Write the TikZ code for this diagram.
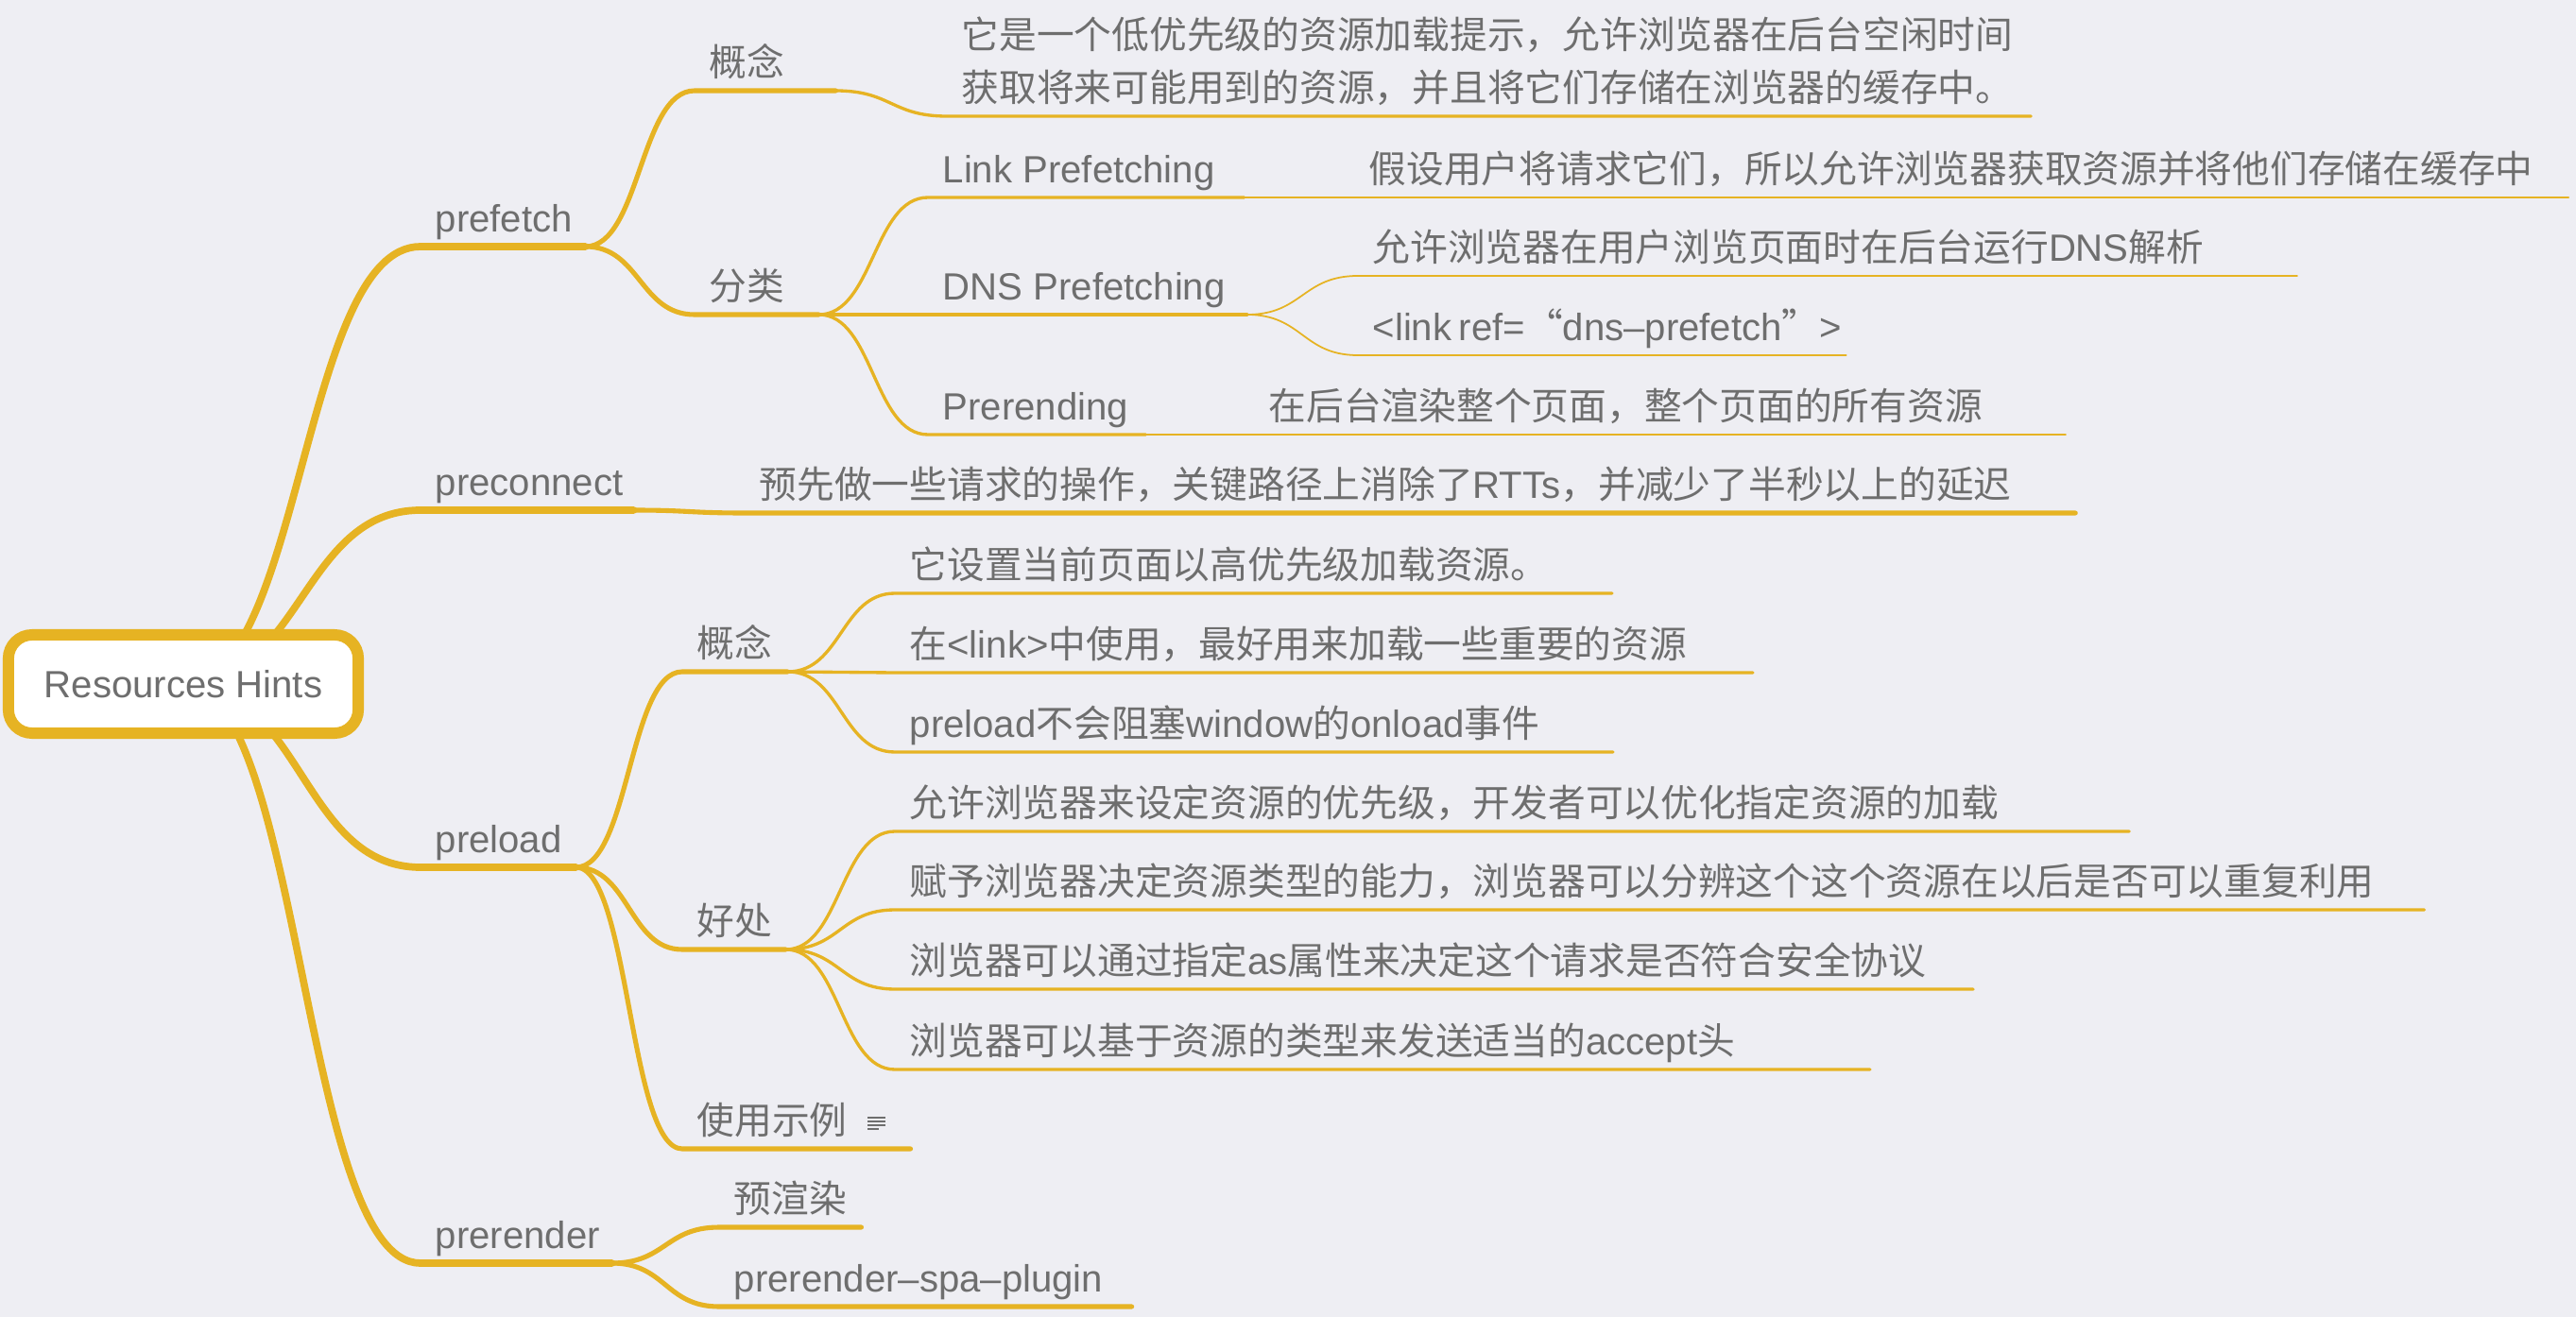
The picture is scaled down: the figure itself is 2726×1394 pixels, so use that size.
\documentclass[tikz,border=0pt]{standalone}
\usepackage{fontspec}
\setmainfont{Liberation Sans}[Scale=1.01]
\newfontfamily\zhfont{Noto Sans CJK SC}
\usetikzlibrary{calc,backgrounds}
\definecolor{ln}{RGB}{230,179,35}
\definecolor{txt}{RGB}{110,110,110}
\definecolor{bg}{RGB}{238,238,243}
% chinese characters switch to the CJK family
\newcount\cc
\newcommand\setzh[2]{\cc=#1 \loop\XeTeXcharclass\cc=1 \advance\cc by 1 \ifnum\cc<#2 \repeat}
\setzh{"3000}{"3040}
\setzh{"4E00}{"A000}
\setzh{"FF00}{"FFF0}
\setzh{"201C}{"201E}
\XeTeXinterchartoks 0 1 = {\zhfont}
\XeTeXinterchartoks 4095 1 = {\zhfont}
\XeTeXinterchartoks 1 0 = {\rmfamily}
\XeTeXinterchartokenstate=1
\tikzset{tp/.style={anchor=south west,inner xsep=0.15cm,inner ysep=0.15cm,text depth=0pt,text=txt}}
\tikzset{ul/.style={execute at begin node={\hbox to \dimexpr#1-0.3cm\relax\bgroup},execute at end node={\hfil\egroup}}}
\tikzset{rt/.style={draw=ln,fill=white,line width=3.4pt,rounded corners=0.25cm,minimum width=3.7cm,minimum height=1.04cm,text=txt}}
\tikzset{b1/.style={draw=ln,line width=2.2pt,line cap=round}}
\tikzset{b2/.style={draw=ln,line width=1.45pt,line cap=round}}
\tikzset{b3/.style={draw=ln,line width=0.95pt,line cap=round}}
\tikzset{b4/.style={draw=ln,line width=0.5pt,line cap=round}}
\tikzset{sc/.style={to path={.. controls ($(\tikztostart)!.5!(\tikztotarget|-\tikztostart)$) and ($(\tikztotarget)!.5!(\tikztostart|-\tikztotarget)$) .. (\tikztotarget)}}}

\begin{document}
\begin{tikzpicture}[x=0.01cm,y=-0.01cm,font=\fontsize{11.3pt}{15.93pt}\selectfont]
                \useasboundingbox (0,0) rectangle (2726,1394);
                \node[rt] (root) at (194,724) {Resources Hints};
                % first level
                \node[tp,ul=1.73cm] (prefetch) at (445,261) {prefetch};
                \node[tp,ul=2.24cm] (preconnect) at (445,540) {preconnect};
                \node[tp,ul=1.63cm] (preload) at (445,918) {preload};
                \node[tp,ul=2.01cm] (prerender) at (445,1337) {prerender};
                % prefetch
                \node[tp,ul=1.48cm] (pfgn) at (735,96) {概念};
                \node[tp,ul=1.30cm] (pffl) at (735,333) {分类};
                \node[tp,text width=11.15cm,align=left,text depth=0.56cm] (pfgnd) at (1002,123) {它是一个低优先级的资源加载提示，允许浏览器在后台空闲时间\\获取将来可能用到的资源，并且将它们存储在浏览器的缓存中。};
                \node[tp,ul=3.33cm] (link) at (982,209) {Link Prefetching};
                \node[tp,ul=3.36cm] (dns) at (982,333) {DNS Prefetching};
                \node[tp,ul=2.29cm] (prer) at (982,460) {Prerending};
                \node[tp,ul=12.83cm] (linkd) at (1433,209) {假设用户将请求它们，所以允许浏览器获取资源并将他们存储在缓存中};
                \node[tp,ul=9.92cm] (dnsa) at (1437,292) {允许浏览器在用户浏览页面时在后台运行DNS解析};
                \node[tp,ul=5.15cm] (dnsb) at (1437,376) {<link ref=“dns–prefetch”>};
                \node[tp,ul=8.57cm] (prerd) at (1327,460) {在后台渲染整个页面，整个页面的所有资源};
                % preconnect
                \node[tp,ul=14.06cm] (pcd) at (788,543) {预先做一些请求的操作，关键路径上消除了RTTs，并减少了半秒以上的延迟};
                % preload
                \node[tp,ul=1.10cm] (plgn) at (722,711) {概念};
                \node[tp,ul=1.08cm] (plhc) at (722,1005) {好处};
                \node[tp,ul=2.40cm] (plsl) at (722,1216) {使用示例};
                \node[tp,ul=7.57cm] (plgn1) at (947,628) {它设置当前页面以高优先级加载资源。};
                \node[tp,ul=9.06cm] (plgn2) at (947,712) {在<link>中使用，最好用来加载一些重要的资源};
                \node[tp,ul=7.58cm] (plgn3) at (947,796) {preload不会阻塞window的onload事件};
                \node[tp,ul=13.04cm] (plhc1) at (947,880) {允许浏览器来设定资源的优先级，开发者可以优化指定资源的加载};
                \node[tp,ul=16.16cm] (plhc2) at (947,963) {赋予浏览器决定资源类型的能力，浏览器可以分辨这个这个资源在以后是否可以重复利用};
                \node[tp,ul=11.39cm] (plhc3) at (947,1047) {浏览器可以通过指定as属性来决定这个请求是否符合安全协议};
                \node[tp,ul=10.30cm] (plhc4) at (947,1132) {浏览器可以基于资源的类型来发送适当的accept头};
                % prerender
                \node[tp,ul=1.49cm] (prr1) at (761,1299) {预渲染};
                \node[tp,ul=4.35cm] (prr2) at (761,1383) {prerender–spa–plugin};
                % note mark
                \foreach \yy/\ww in {1183/19,1187/19,1191/19,1195/12}
                    \draw[txt,line width=0.35pt] (918,\yy) -- ++(\ww,0);
                \begin{scope}[on background layer]
                \fill[bg] (0,0) rectangle (2726,1394);
                \foreach \n in {prefetch,preconnect,preload,prerender}
                    \draw[b1] (root.center) to[sc] (\n.south west) -- (\n.south east);
                \foreach \n in {pfgn,pffl}
                    \draw[b2] (prefetch.south east) to[sc] (\n.south west) -- (\n.south east);
                \draw[b2] (preconnect.south east) to[sc] (pcd.south west) -- (pcd.south east);
                \foreach \n in {plgn,plhc,plsl}
                    \draw[b2] (preload.south east) to[sc] (\n.south west) -- (\n.south east);
                \foreach \n in {prr1,prr2}
                    \draw[b2] (prerender.south east) to[sc] (\n.south west) -- (\n.south east);
                \draw[b3] (pfgn.south east) to[sc] (pfgnd.south west) -- (pfgnd.south east);
                \foreach \n in {link,dns,prer}
                    \draw[b3] (pffl.south east) to[sc] (\n.south west) -- (\n.south east);
                \foreach \n in {plgn1,plgn2,plgn3}
                    \draw[b3] (plgn.south east) to[sc] (\n.south west) -- (\n.south east);
                \foreach \n in {plhc1,plhc2,plhc3,plhc4}
                    \draw[b3] (plhc.south east) to[sc] (\n.south west) -- (\n.south east);
                \draw[b4] (link.south east) to[sc] (linkd.south west) -- (linkd.south east);
                \foreach \n in {dnsa,dnsb}
                    \draw[b4] (dns.south east) to[sc] (\n.south west) -- (\n.south east);
                \draw[b4] (prer.south east) to[sc] (prerd.south west) -- (prerd.south east);
                \end{scope}
            \end{tikzpicture}
\end{document}
